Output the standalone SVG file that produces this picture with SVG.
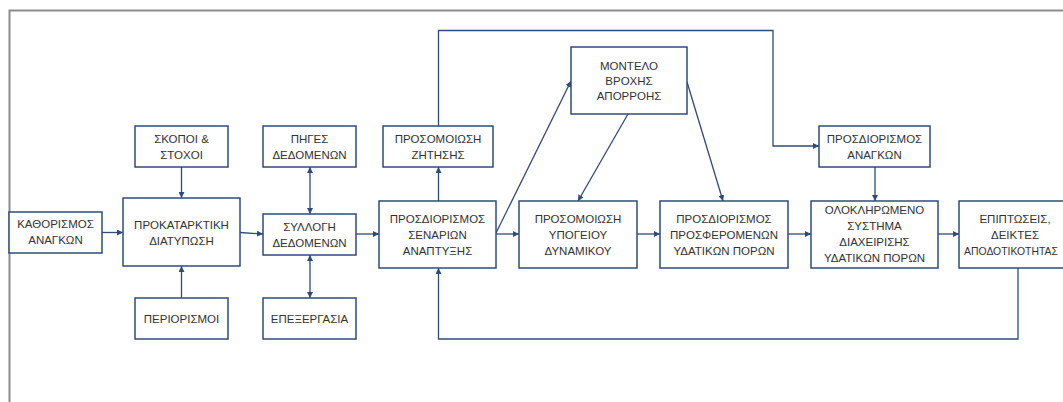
<svg xmlns="http://www.w3.org/2000/svg" width="1063" height="402" viewBox="0 0 1063 402">
<style>
.box{fill:#fff;stroke:#2F4B7C;stroke-width:1.5}
.t{font-family:"Liberation Sans",Arial,sans-serif;font-size:11.5px;fill:#333;text-anchor:middle}
.c{fill:none;stroke:#2F4B7C;stroke-width:1.3}
</style>
<defs>
<marker id="ah" viewBox="0 0 10 10" refX="10" refY="5" markerWidth="6" markerHeight="6" markerUnits="userSpaceOnUse" orient="auto-start-reverse">
<path d="M0,0 L10,5 L0,10 z" fill="#2F4B7C"/>
</marker>
</defs>
<rect x="0" y="0" width="1063" height="402" fill="#fff"/>
<rect x="9.5" y="10.5" width="1100" height="500" fill="none" stroke="#8c8c8c" stroke-width="2"/>

<g id="connectors">
<path class="c" d="M102,232.5 L123,232.5" marker-end="url(#ah)"/>
<path class="c" d="M181.5,167 L181.5,198" marker-end="url(#ah)"/>
<path class="c" d="M181.5,298 L181.5,266" marker-end="url(#ah)"/>
<path class="c" d="M240,232.5 L263,234" marker-end="url(#ah)"/>
<path class="c" d="M310,190 L310,167" marker-end="url(#ah)"/>
<path class="c" d="M310,190 L310,214" marker-end="url(#ah)"/>
<path class="c" d="M310,276 L310,255" marker-end="url(#ah)"/>
<path class="c" d="M310,276 L310,298" marker-end="url(#ah)"/>
<path class="c" d="M356,234 L379,234" marker-end="url(#ah)"/>
<path class="c" d="M438.5,201 L438.5,167" marker-end="url(#ah)"/>
<path class="c" d="M438.5,126 L438.5,30.5 L773,30.5 L773,146 L819,146" marker-end="url(#ah)"/>
<path class="c" d="M496,233 L571,81" marker-end="url(#ah)"/>
<path class="c" d="M496,234 L519,234" marker-end="url(#ah)"/>
<path class="c" d="M628,114 L578,201" marker-end="url(#ah)"/>
<path class="c" d="M687,82 L723,201" marker-end="url(#ah)"/>
<path class="c" d="M637,234 L660,234" marker-end="url(#ah)"/>
<path class="c" d="M788,234 L811,234" marker-end="url(#ah)"/>
<path class="c" d="M875,167 L875,201" marker-end="url(#ah)"/>
<path class="c" d="M938,234 L959,234" marker-end="url(#ah)"/>
<path class="c" d="M1018,268 L1018,339 L438.5,339 L438.5,268" marker-end="url(#ah)"/>
</g>

<g id="n_kathorismos"><rect class="box" x="9" y="212" width="93" height="41"/>
<text class="t" x="55.5" y="228">ΚΑΘΟΡΙΣΜΟΣ</text><text class="t" x="55.5" y="244">ΑΝΑΓΚΩΝ</text></g>

<g id="n_skopoi"><rect class="box" x="135" y="126" width="93" height="41"/>
<text class="t" x="181.5" y="143">ΣΚΟΠΟΙ &amp;</text><text class="t" x="181.5" y="159">ΣΤΟΧΟΙ</text></g>

<g id="n_prokatarktiki"><rect class="box" x="123" y="198" width="117" height="68"/>
<text class="t" x="181.5" y="229">ΠΡΟΚΑΤΑΡΚΤΙΚΗ</text><text class="t" x="181.5" y="245">ΔΙΑΤΥΠΩΣΗ</text></g>

<g id="n_periorismoi"><rect class="box" x="135" y="298" width="93" height="41"/>
<text class="t" x="181.5" y="322.5">ΠΕΡΙΟΡΙΣΜΟΙ</text></g>

<g id="n_piges"><rect class="box" x="263" y="126" width="93" height="41"/>
<text class="t" x="309.5" y="143">ΠΗΓΕΣ</text><text class="t" x="309.5" y="159">ΔΕΔΟΜΕΝΩΝ</text></g>

<g id="n_syllogi"><rect class="box" x="263" y="214" width="93" height="41"/>
<text class="t" x="309.5" y="231">ΣΥΛΛΟΓΗ</text><text class="t" x="309.5" y="247">ΔΕΔΟΜΕΝΩΝ</text></g>

<g id="n_epexergasia"><rect class="box" x="263" y="298" width="93" height="41"/>
<text class="t" x="309.5" y="322.5">ΕΠΕΞΕΡΓΑΣΙΑ</text></g>

<g id="n_zitisis"><rect class="box" x="383" y="126" width="110" height="41"/>
<text class="t" x="438" y="143">ΠΡΟΣΟΜΟΙΩΣΗ</text><text class="t" x="438" y="159">ΖΗΤΗΣΗΣ</text></g>

<g id="n_senarion"><rect class="box" x="379" y="201" width="117" height="67"/>
<text class="t" x="437.5" y="222.5">ΠΡΟΣΔΙΟΡΙΣΜΟΣ</text><text class="t" x="437.5" y="238.5">ΣΕΝΑΡΙΩΝ</text><text class="t" x="437.5" y="254.5">ΑΝΑΠΤΥΞΗΣ</text></g>

<g id="n_montelo"><rect class="box" x="571" y="47" width="116" height="67"/>
<text class="t" x="629" y="69.5">ΜΟΝΤΕΛΟ</text><text class="t" x="629" y="84.5">ΒΡΟΧΗΣ</text><text class="t" x="629" y="100">ΑΠΟΡΡΟΗΣ</text></g>

<g id="n_ypogeiou"><rect class="box" x="519" y="201" width="118" height="67"/>
<text class="t" x="578" y="222.5">ΠΡΟΣΟΜΟΙΩΣΗ</text><text class="t" x="578" y="238.5">ΥΠΟΓΕΙΟΥ</text><text class="t" x="578" y="254.5">ΔΥΝΑΜΙΚΟΥ</text></g>

<g id="n_prosferomenon"><rect class="box" x="660" y="201" width="128" height="67"/>
<text class="t" x="724" y="222.5">ΠΡΟΣΔΙΟΡΙΣΜΟΣ</text><text class="t" x="724" y="238.5">ΠΡΟΣΦΕΡΟΜΕΝΩΝ</text><text class="t" x="724" y="254.5">ΥΔΑΤΙΚΩΝ ΠΟΡΩΝ</text></g>

<g id="n_anagkon"><rect class="box" x="819" y="126" width="111" height="41"/>
<text class="t" x="874.5" y="143">ΠΡΟΣΔΙΟΡΙΣΜΟΣ</text><text class="t" x="874.5" y="159">ΑΝΑΓΚΩΝ</text></g>

<g id="n_oloklirwmeno"><rect class="box" x="811" y="201" width="127" height="67"/>
<text class="t" x="874.5" y="213.5">ΟΛΟΚΛΗΡΩΜΕΝΟ</text><text class="t" x="874.5" y="229.5">ΣΥΣΤΗΜΑ</text><text class="t" x="874.5" y="245.5">ΔΙΑΧΕΙΡΙΣΗΣ</text><text class="t" x="874.5" y="261.5">ΥΔΑΤΙΚΩΝ ΠΟΡΩΝ</text></g>

<g id="n_epiptoseis"><rect class="box" x="959" y="201" width="118" height="67"/>
<text class="t" x="1015" y="222.5">ΕΠΙΠΤΩΣΕΙΣ,</text><text class="t" x="1015" y="238.5">ΔΕΙΚΤΕΣ</text><text class="t" x="1011" y="254.5" style="font-size:10.4px">ΑΠΟΔΟΤΙΚΟΤΗΤΑΣ</text></g>
</svg>
